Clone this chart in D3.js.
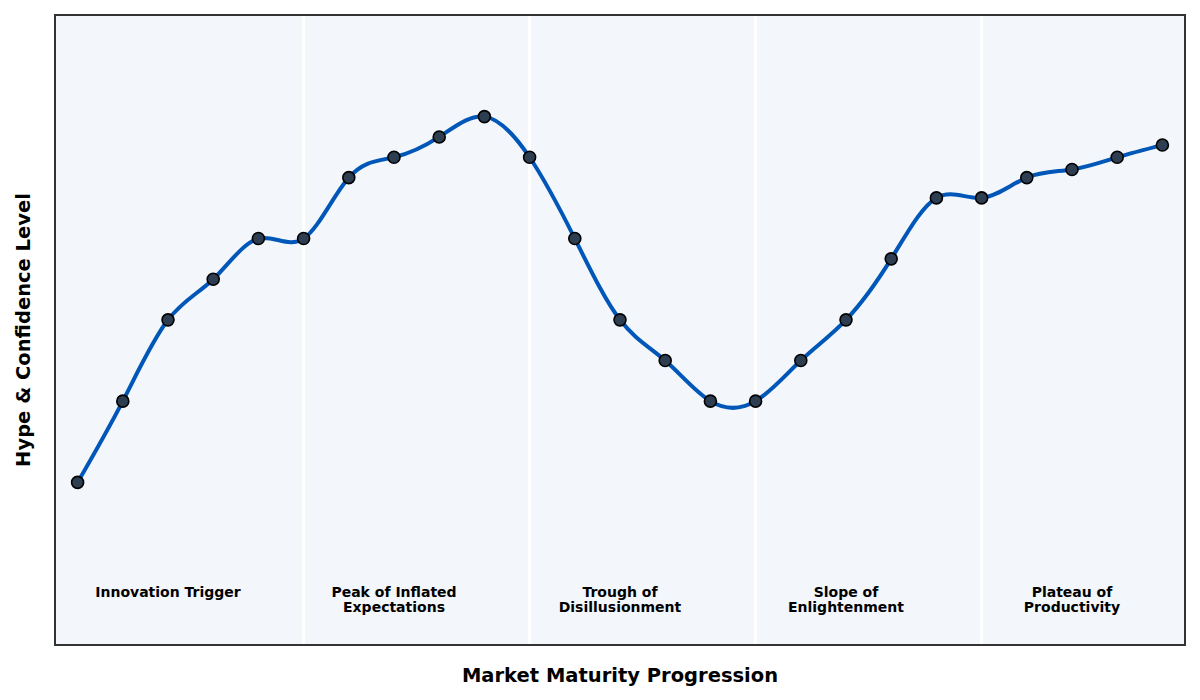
<!DOCTYPE html>
<html>
<head>
<meta charset="utf-8">
<script src="https://cdn.jsdelivr.net/npm/d3@7"></script>
<style>
  body { margin: 0; background: #fff; font-family: "DejaVu Sans", sans-serif; }
</style>
</head>
<body>
<svg id="chart" width="1200" height="700"></svg>
<script>
// hype values per step
const hype = [20, 40, 60, 70, 80, 80, 95, 100, 105, 110, 100, 80, 60, 50, 40, 40, 50, 60, 75, 90, 90, 95, 97, 100, 103];
const phaseBounds = [5, 10, 15, 20];
const phaseCenters = [2, 7, 12, 17, 22];
const phaseLabels = [
  ['Innovation Trigger'],
  ['Peak of Inflated', 'Expectations'],
  ['Trough of', 'Disillusionment'],
  ['Slope of', 'Enlightenment'],
  ['Plateau of', 'Productivity']
];

const margin = { left: 55, right: 15, top: 15, bottom: 55 };
const width = 1200, height = 700;
const svg = d3.select('#chart');

const x = d3.scaleLinear().domain([-0.5, 24.5]).range([margin.left, width - margin.right]);
const y = d3.scaleLinear().domain([-20, 135]).range([height - margin.bottom, margin.top]);

svg.append('rect')
  .attr('x', margin.left).attr('y', margin.top)
  .attr('width', width - margin.left - margin.right)
  .attr('height', height - margin.top - margin.bottom)
  .attr('fill', '#f3f6fa');

svg.selectAll('line.bound')
  .data(phaseBounds)
  .join('line')
  .attr('class', 'bound')
  .attr('x1', d => x(d)).attr('x2', d => x(d))
  .attr('y1', margin.top).attr('y2', height - margin.bottom)
  .attr('stroke', '#fff').attr('stroke-width', 3);

const line = d3.line()
  .x((d, i) => x(i))
  .y(d => y(d))
  .curve(d3.curveNatural);

svg.append('path')
  .datum(hype)
  .attr('d', line)
  .attr('fill', 'none')
  .attr('stroke', '#0057b8')
  .attr('stroke-width', 4);

svg.selectAll('circle.pt')
  .data(hype)
  .join('circle')
  .attr('class', 'pt')
  .attr('cx', (d, i) => x(i))
  .attr('cy', d => y(d))
  .attr('r', 6)
  .attr('fill', '#2c3e50')
  .attr('stroke', '#000')
  .attr('stroke-width', 1.6);

const labels = svg.selectAll('text.phase')
  .data(phaseLabels)
  .join('text')
  .attr('class', 'phase')
  .attr('x', (d, i) => x(phaseCenters[i]))
  .attr('y', y(-5))
  .attr('text-anchor', 'middle')
  .attr('font-size', 14)
  .attr('font-weight', 'bold')
  .attr('fill', '#000');

labels.selectAll('tspan')
  .data(d => d)
  .join('tspan')
  .attr('x', function () { return this.parentNode.getAttribute('x'); })
  .attr('dy', (d, i) => i === 0 ? '0.9em' : '1.1em')
  .text(d => d);

svg.append('rect')
  .attr('x', margin.left).attr('y', margin.top)
  .attr('width', width - margin.left - margin.right)
  .attr('height', height - margin.top - margin.bottom)
  .attr('fill', 'none')
  .attr('stroke', '#333')
  .attr('stroke-width', 2);

svg.append('text')
  .attr('x', (margin.left + width - margin.right) / 2)
  .attr('y', 682)
  .attr('text-anchor', 'middle')
  .attr('font-size', 19.5)
  .attr('font-weight', 'bold')
  .text('Market Maturity Progression');

svg.append('text')
  .attr('transform', `translate(30,${(margin.top + height - margin.bottom) / 2}) rotate(-90)`)
  .attr('text-anchor', 'middle')
  .attr('font-size', 19.5)
  .attr('font-weight', 'bold')
  .text('Hype & Confidence Level');
</script>
</body>
</html>
